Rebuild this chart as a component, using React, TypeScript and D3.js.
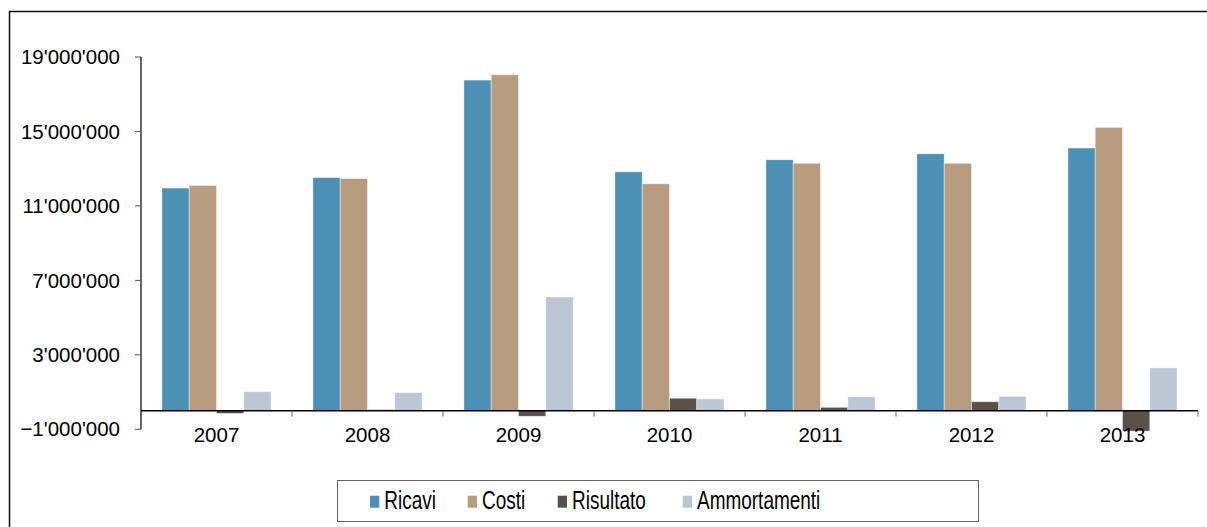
import React from "react";
import * as d3 from "d3";

const years = ["2007", "2008", "2009", "2010", "2011", "2012", "2013"];
const seriesNames = ["Ricavi", "Costi", "Risultato", "Ammortamenti"];
const ricavi = [11960000, 12520000, 17760000, 12830000, 13480000, 13800000, 14110000];
const costi = [12100000, 12470000, 18050000, 12190000, 13290000, 13290000, 15220000];
const risultato = [-150000, 50000, -300000, 670000, 180000, 480000, -1100000];
const ammortamenti = [1020000, 970000, 6110000, 630000, 750000, 770000, 2300000];
const yTicks = [-1000000, 3000000, 7000000, 11000000, 15000000, 19000000];
const colors = ["#4B90B5", "#B89C80", "#5A5248", "#BCC7D6"];

const W = 1207;
const H = 527;
const LEGEND_X = [370, 467.7, 557.7, 682.7];

export default function App() {
  const values = [ricavi, costi, risultato, ammortamenti];
  const y = d3.scaleLinear().domain([-1000000, 19000000]).range([429.3, 57]);
  const x = d3.scaleBand<string>().domain(years).range([141, 1198]).padding(0);
  const xs = d3
    .scaleBand<string>()
    .domain(seriesNames)
    .range([0, x.bandwidth()])
    .paddingInner(0)
    .paddingOuter(0.765);
  const fmt = (v: number) => d3.format(",")(v).replace(/,/g, "'");
  const y0 = y(0);

  return (
    <svg
      width={W}
      height={H}
      style={{ position: "absolute", left: 0, top: 0, display: "block" }}
      fontFamily="'Liberation Sans', Arial, sans-serif"
    >
      <rect x={0} y={0} width={W} height={H} fill="#fff" />
      <rect x={9.5} y={11.5} width={W + 20} height={H + 20} fill="none" stroke="#111" strokeWidth={1.5} />

      {/* bars */}
      {years.map((yr, i) =>
        seriesNames.map((s, j) => {
          const v = values[j][i];
          const top = Math.min(y(v), y0);
          const h = Math.abs(y(v) - y0);
          return (
            <rect
              key={yr + s}
              x={(x(yr) as number) + (xs(s) as number)}
              y={top}
              width={xs.bandwidth()}
              height={h}
              fill={colors[j]}
              stroke="rgba(255,255,255,0.55)"
              strokeWidth={0.8}
            />
          );
        })
      )}

      {/* y axis */}
      <line x1={141} x2={141} y1={y(19000000)} y2={y(-1000000)} stroke="#000" strokeWidth={1.2} />
      {yTicks.map((t) => (
        <g key={t}>
          <line x1={135} x2={141} y1={y(t)} y2={y(t)} stroke="#555" strokeWidth={1} />
          <text x={120} y={y(t)} dy="0.35em" textAnchor="end" fontSize={20.5} fill="#000">
            {fmt(t)}
          </text>
        </g>
      ))}

      {/* x axis */}
      <line x1={141} x2={1198} y1={y0} y2={y0} stroke="#000" strokeWidth={1.5} />
      {years.map((yr) => (
        <line
          key={"t" + yr}
          x1={x(yr) as number}
          x2={x(yr) as number}
          y1={y0}
          y2={y0 + 6}
          stroke="#666"
          strokeWidth={1}
        />
      ))}
      <line x1={1198} x2={1198} y1={y0} y2={y0 + 6} stroke="#666" strokeWidth={1} />
      {years.map((yr) => (
        <text
          key={"l" + yr}
          x={(x(yr) as number) + x.bandwidth() / 2}
          y={441.5}
          textAnchor="middle"
          fontSize={20.5}
          fill="#000"
        >
          {yr}
        </text>
      ))}

      {/* legend */}
      <rect x={337.5} y={480.5} width={641} height={41} fill="#fff" stroke="#666" strokeWidth={1} />
      {seriesNames.map((s, j) => (
        <g key={"lg" + s}>
          <rect x={LEGEND_X[j]} y={495.7} width={9.3} height={12} fill={colors[j]} />
          <g transform={`translate(${LEGEND_X[j] + 14.3},509.3) scale(0.73,1)`}>
            <text x={0} y={0} fontSize={26} fill="#000">
              {s}
            </text>
          </g>
        </g>
      ))}
    </svg>
  );
}
